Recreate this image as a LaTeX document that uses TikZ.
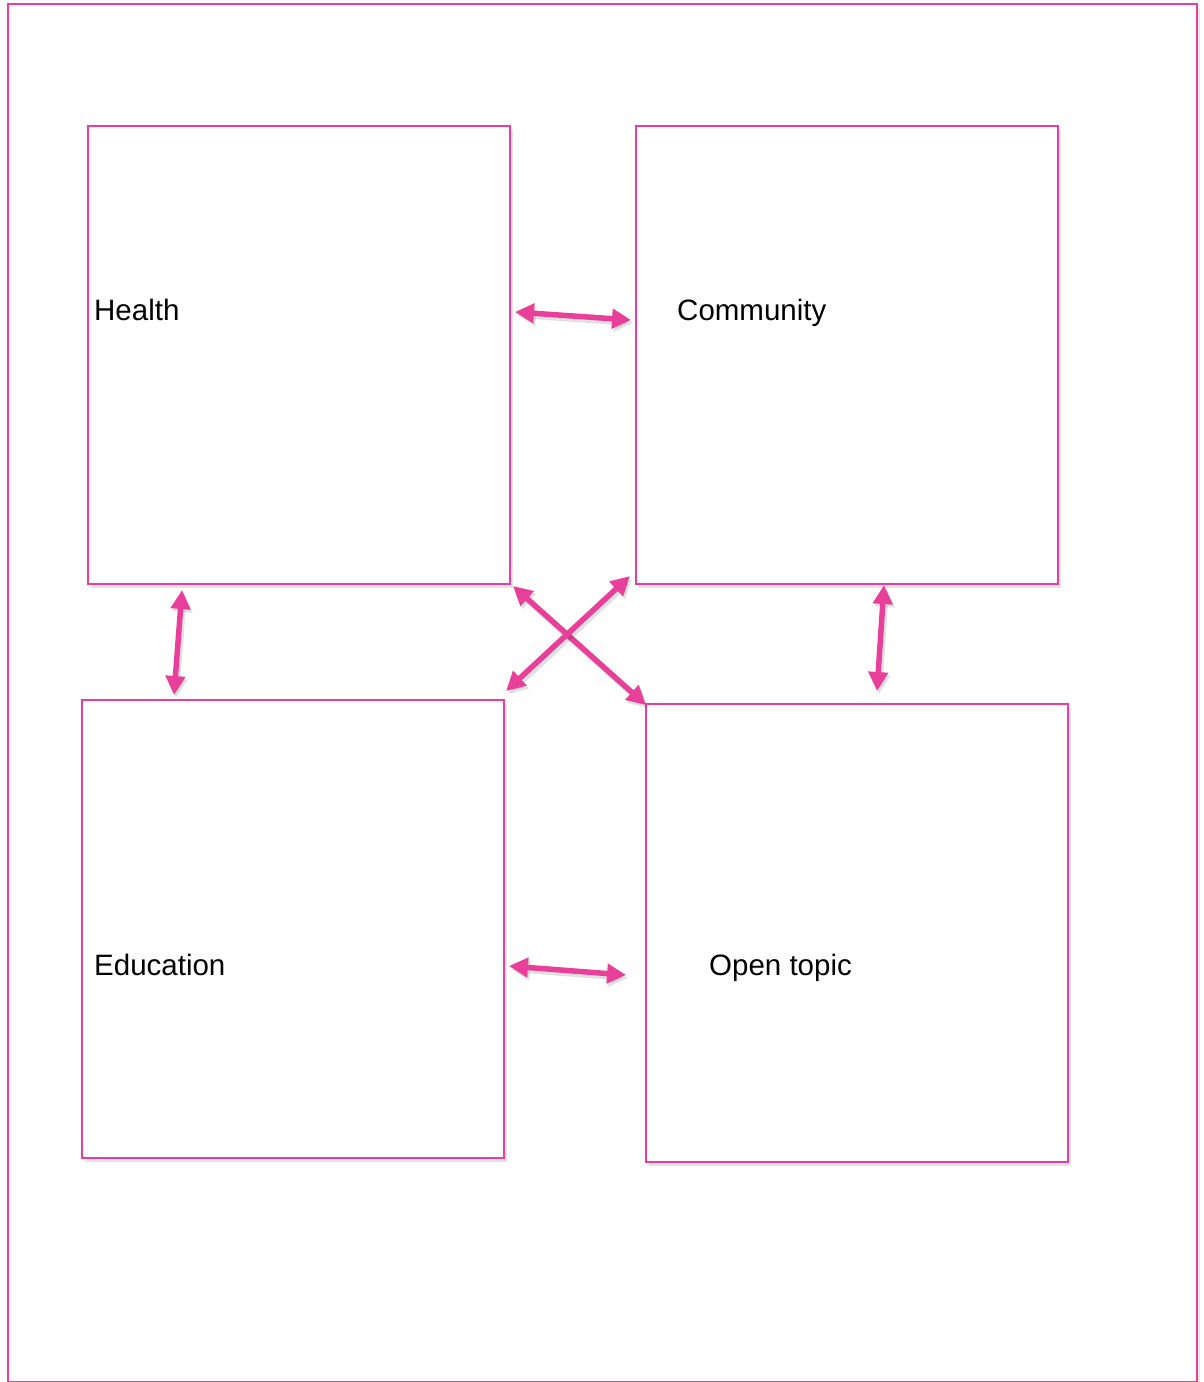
\documentclass[tikz,border=0pt]{standalone}
\usepackage{fontspec}
\setmainfont{Liberation Sans}
\usetikzlibrary{arrows.meta,calc,shadows}
\definecolor{rose}{RGB}{232,64,154}
\tikzset{
  topicbox/.style={draw=rose, line width=2pt, fill=white, minimum width=422pt,
    minimum height=458pt, inner sep=0pt, outer sep=0pt, anchor=north west,
    drop shadow={shadow xshift=3pt, shadow yshift=-4pt, opacity=0.18, fill=black!60}},
  topiclabel/.style={anchor=base west, inner sep=0pt,
    font=\fontsize{29.5}{34}\selectfont},
  link/.style={draw=rose, line width=5.5pt,
    {Triangle[length=19pt,width=19pt]}-{Triangle[length=19pt,width=19pt]},
    preaction={draw=black, opacity=0.12, line width=6pt,
      transform canvas={shift={(2pt,-3pt)}}}}
}
\begin{document}
\begin{tikzpicture}[x=1pt,y=-1pt]
\useasboundingbox (0,0) rectangle (1203,1382);
% outer page frame
\node[draw=rose, line width=2pt, fill=white, inner sep=0pt, outer sep=0pt,
  anchor=north west, minimum width=1189pt, minimum height=1378pt,
  drop shadow={shadow xshift=3pt, shadow yshift=-4pt, opacity=0.15, fill=black!60}]
  (frame) at (8,4) {};
% the four topic boxes
\node[topicbox] (H) at (88,126) {};
\node[topicbox] (C) at (636,126) {};
\node[topicbox] (E) at (82,700) {};
\node[topicbox] (O) at (646,704) {};
% labels
\node[topiclabel] (hl) at (94,320) {Health};
\node[topiclabel] (cl) at (677,320) {Community};
\node[topiclabel] (el) at (94,975) {Education};
\node[topiclabel] (ol) at (709,975) {Open topic};
% arrow ends
\coordinate (hc1) at ($(H.north east)+(5,186)$);
\coordinate (hc2) at ($(C.north west)+(-5,194)$);
\coordinate (he1) at ($(H.south west)+(94,6)$);
\coordinate (he2) at ($(E.north west)+(92,-5)$);
\coordinate (co1) at ($(C.south east)+(-174,1)$);
\coordinate (co2) at ($(O.north east)+(-191,-13)$);
\coordinate (eo1) at ($(E.north east)+(5,266)$);
\coordinate (eo2) at ($(O.north west)+(-20,271)$);
\coordinate (ho1) at ($(H.south east)+(3,2)$);
\coordinate (ho2) at ($(O.north west)+(0,1)$);
\coordinate (ce1) at ($(C.south west)+(-6,-8)$);
\coordinate (ce2) at ($(E.north east)+(2,-9)$);
% connectors
\draw[link] (hc1) -- (hc2);
\draw[link] (he1) -- (he2);
\draw[link] (co1) -- (co2);
\draw[link] (eo1) -- (eo2);
\draw[link] (ho1) -- (ho2);
\draw[link] (ce1) -- (ce2);
\end{tikzpicture}
\end{document}
